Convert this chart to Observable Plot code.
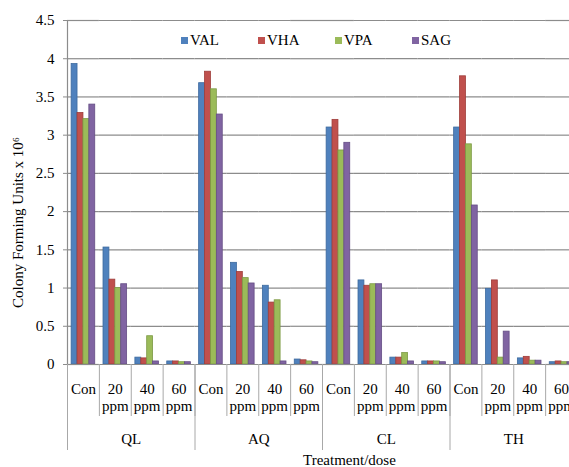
<!DOCTYPE html>
<html>
<head>
<meta charset="utf-8">
<script src="https://cdn.jsdelivr.net/npm/d3@7"></script>
<script src="https://cdn.jsdelivr.net/npm/@observablehq/plot@0.6"></script>
<style>
  html, body { margin: 0; padding: 0; background: #fff; overflow: hidden; }
  #chart { position: relative; width: 569px; height: 467px; }
  #chart > svg { position: absolute; left: 0; top: 0; }
  #chart svg, #chart svg text, #legend, #legend span {
    font-family: "Liberation Serif", "DejaVu Serif", "Times New Roman", serif !important;
  }
  #legend { position: absolute; left: 181px; top: 24px; }
  #legend span { width: 77px; margin-right: 0 !important; }
  #legend span > svg { margin-right: 2px !important; }
</style>
</head>
<body>
<div id="chart"><div id="legend"></div></div>
<script>
const treatments = ["QL", "AQ", "CL", "TH"];
const doses = ["Con", "20 ppm", "40 ppm", "60 ppm"];
const series = ["VAL", "VHA", "VPA", "SAG"];
const colors = ["#4f81bd", "#c0504d", "#9bbb59", "#8064a2"];
const edges = ["#3d6a9e", "#9e3d3a", "#7c9a45", "#654e85"];
const yTicks = [0, 0.5, 1, 1.5, 2, 2.5, 3, 3.5, 4, 4.5];

// CFU (x10^6) per treatment/dose, in order QL, AQ, CL, TH × Con, 20, 40, 60 ppm
const VAL = [3.93, 1.53, 0.09, 0.04,  3.68, 1.33, 1.03, 0.065,  3.10, 1.10, 0.09, 0.04,  3.10, 0.99, 0.08, 0.03];
const VHA = [3.29, 1.11, 0.08, 0.04,  3.83, 1.21, 0.81, 0.055,  3.20, 1.03, 0.09, 0.04,  3.77, 1.10, 0.10, 0.04];
const VPA = [3.21, 1.00, 0.37, 0.03,  3.60, 1.13, 0.84, 0.04,   2.80, 1.05, 0.15, 0.04,  2.88, 0.09, 0.05, 0.03];
const SAG = [3.40, 1.05, 0.04, 0.03,  3.27, 1.06, 0.04, 0.03,   2.90, 1.05, 0.04, 0.03,  2.08, 0.43, 0.05, 0.03];
const valuesBySeries = {VAL, VHA, VPA, SAG};

const keys = treatments.flatMap(t => doses.map(d => `${t}|${d}`));
const rows = series.flatMap((s, si) =>
  keys.map((key, i) => ({key, series: s, value: valuesBySeries[s][i], edge: edges[si]}))
);

const font = `"Liberation Serif", "DejaVu Serif", serif`;
const fs = 15;
const W = 569, H = 467;
const mTop = 20, mBottom = 103, mLeft = 67, mRight = -8;
const step = (W - mLeft - mRight) / keys.length;   // width of one dose slot
const grid = "#8c8c8c", sep = "#a8a8a8";

const chart = Plot.plot({
  width: W, height: H,
  marginTop: mTop, marginBottom: mBottom, marginLeft: mLeft, marginRight: mRight,
  style: {fontFamily: font, fontSize: `${fs}px`, color: "#000", background: "transparent", overflow: "hidden"},
  fx: {domain: keys, padding: 0, round: false, axis: null, label: null},
  x: {domain: series, paddingInner: 0, paddingOuter: 0.7, round: false, axis: null},
  y: {domain: [0, 4.5], axis: null},
  color: {domain: series, range: colors},
  marks: [
    Plot.gridY(yTicks.filter(v => v > 0), {stroke: grid, strokeOpacity: 1, strokeWidth: 1.2}),
    Plot.barY(rows, {fx: "key", x: "series", y: "value", fill: "series", stroke: "edge", strokeWidth: 0.8}),
    Plot.ruleY([0], {stroke: grid, strokeWidth: 1.2}),
    // dose separators below the baseline
    Plot.ruleX(keys, {x: null, fx: d => d, y1: 0, y2: 0, insetBottom: -52, dx: -step / 2, stroke: sep}),
    // treatment separators, reaching down past the group labels
    Plot.ruleX(treatments, {x: null, fx: t => `${t}|Con`, y1: 0, y2: 0, insetBottom: -86, dx: -step / 2, stroke: sep}),
    // value axis line
    Plot.ruleX(["axis"], {x: null, fx: () => keys[0], y1: 0, y2: 4.5, dx: -step / 2, stroke: grid, strokeWidth: 1.2}),
    Plot.axisY({ticks: yTicks, tickSize: 4, tickPadding: 9, tickFormat: d => String(d), label: null, stroke: grid, fontSize: fs}),
    Plot.axisFx({anchor: "bottom", tickFormat: k => k.split("|")[1].replace(" ", "\n"), tickSize: 0, tickPadding: 17, lineHeight: 1.15, label: null, fontSize: fs}),
    Plot.text(treatments, {fx: t => `${t}|20 ppm`, text: d => d, frameAnchor: "bottom-right", textAnchor: "middle", lineAnchor: "middle", dy: 75, fontSize: fs}),
    Plot.text(["Treatment/dose"], {fx: () => "CL|Con", text: d => d, frameAnchor: "bottom", lineAnchor: "middle", dy: 96, dx: 11, fontSize: fs}),
    Plot.text(["Colony Forming Units x 10⁶"], {fx: () => keys[0], text: d => d, frameAnchor: "left", rotate: -90, textAnchor: "middle", lineAnchor: "middle", dx: -49, dy: 30, fontSize: fs})
  ]
});
document.getElementById("chart").prepend(chart);

const legend = Plot.legend({
  color: {domain: series, range: colors},
  legend: "swatches",
  swatchSize: 7,
  style: {fontFamily: font, fontSize: `${fs}px`, color: "#000", margin: 0}
});
document.getElementById("legend").append(legend);
</script>
</body>
</html>
